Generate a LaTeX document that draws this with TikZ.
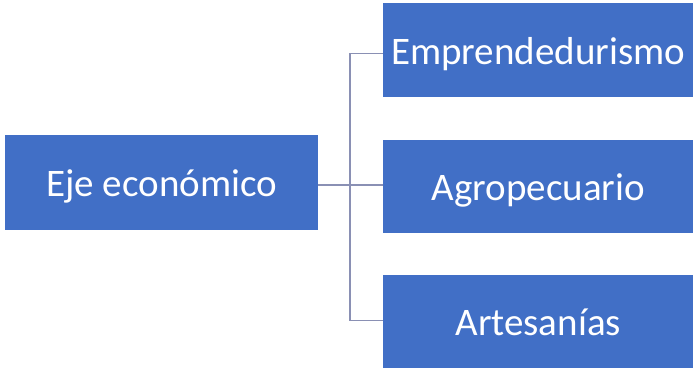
\documentclass[tikz,border=0pt]{standalone}
\usepackage{fontspec}
\setmainfont{Carlito}
\definecolor{boxblue}{HTML}{416FC6}
\definecolor{linegray}{HTML}{8A90B4}
\begin{document}
\begin{tikzpicture}[x=1pt,y=-1pt,
  box/.style={fill=boxblue,draw=none,text=white,inner sep=0pt,anchor=north west,
    text height=34pt,text depth=6pt,font=\fontsize{39}{44}\selectfont},
  conn/.style={draw=linegray,line width=1.3pt}]
\useasboundingbox (0,0) rectangle (695,370);
\fill[white] (0,0) rectangle (695,370);
\node[box,minimum width=313pt,minimum height=95pt] (eje) at (5,135) {Eje económico};
\node[box,minimum width=310pt,minimum height=94pt] (emp) at (383,3) {Emprendedurismo};
\node[box,minimum width=310pt,minimum height=93pt] (agr) at (383,140) {Agropecuario};
\node[box,minimum width=310pt,minimum height=93pt] (art) at (383,275) {Artesanías};
\coordinate (j) at (350,185);
\draw[conn] (eje.east |- j) -- (j);
\draw[conn] (j) -- (agr.west |- j);
\draw[conn] (j) |- ([yshift=-3pt]emp.west);
\draw[conn] (j) |- ([yshift=1pt]art.west);
\end{tikzpicture}
\end{document}
